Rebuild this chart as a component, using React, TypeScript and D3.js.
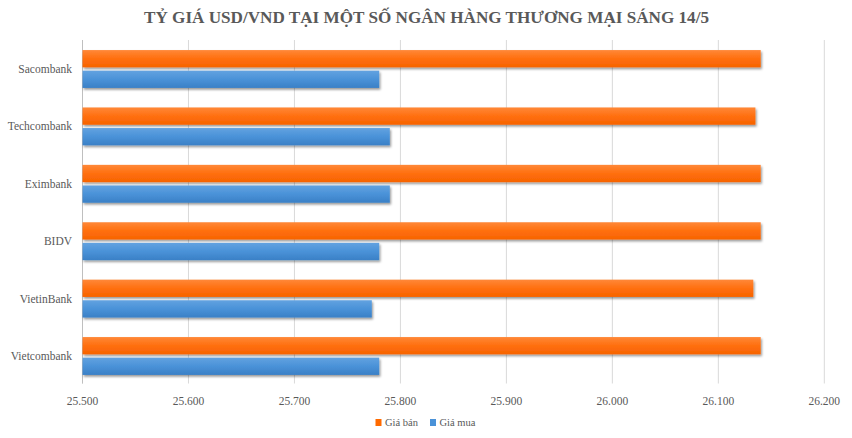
import React from "react";
import * as d3 from "d3";

const categories = ["Sacombank", "Techcombank", "Eximbank", "BIDV", "VietinBank", "Vietcombank"];
const seriesNames = ["Giá bán", "Giá mua"];
const giaBan = [26140, 26135, 26140, 26140, 26133, 26140];
const giaMua = [25780, 25790, 25790, 25780, 25773, 25780];
const tickValues = [25500, 25600, 25700, 25800, 25900, 26000, 26100, 26200];
const title = "TỶ GIÁ USD/VND TẠI MỘT SỐ NGÂN HÀNG THƯƠNG MẠI SÁNG 14/5";

const W = 852;
const H = 438;
const serif = "'Liberation Serif', 'DejaVu Serif', serif";

export default function App() {
  const x = d3.scaleLinear().domain([25500, 26200]).range([82.5, 824.3]);
  const y = d3.scaleBand<string>().domain(categories).range([40.3, 384.7]).paddingInner(0.34).paddingOuter(0.17);
  const sub = d3.scaleBand<string>().domain(seriesNames).range([0, y.bandwidth()]).paddingInner(0.16);
  const loc = d3.formatLocale({ decimal: ",", thousands: ".", grouping: [3], currency: ["", ""] });
  const fmt = loc.format(",.0f");
  const series = [
    { name: seriesNames[0], values: giaBan, grad: "gOrange" },
    { name: seriesNames[1], values: giaMua, grad: "gBlue" },
  ];
  const plotTop = 40;
  const plotBottom = 383.5;
  return (
    <svg width={W} height={H} style={{ position: "absolute", left: 0, top: 0, background: "#fff" }}>
      <defs>
        <linearGradient id="gOrange" x1="0" y1="0" x2="0" y2="1">
          <stop offset="0" stopColor="#ff8838" />
          <stop offset="0.5" stopColor="#ff6f0f" />
          <stop offset="1" stopColor="#f76300" />
        </linearGradient>
        <linearGradient id="gBlue" x1="0" y1="0" x2="0" y2="1">
          <stop offset="0" stopColor="#62a2e0" />
          <stop offset="0.5" stopColor="#4a92d8" />
          <stop offset="1" stopColor="#3a80c6" />
        </linearGradient>
        <filter id="shadow" x="-5%" y="-30%" width="110%" height="170%">
          <feDropShadow dx="1.2" dy="1.8" stdDeviation="0.9" floodColor="#000" floodOpacity="0.4" />
        </filter>
      </defs>
      <rect x={0} y={0} width={W} height={H} fill="#fff" />
      <text
        x={426.5}
        y={23}
        textAnchor="middle"
        fontFamily={serif}
        fontWeight="bold"
        fontSize={17.5}
        fill="#595959"
        textLength={565}
        lengthAdjust="spacingAndGlyphs"
      >
        {title}
      </text>
      {tickValues.map((t) => (
        <line key={"g" + t} x1={x(t)} x2={x(t)} y1={plotTop} y2={plotBottom} stroke="#d9d9d9" strokeWidth={1} />
      ))}
      <line x1={x(25500)} x2={x(25500)} y1={plotTop} y2={plotBottom} stroke="#bfbfbf" strokeWidth={1} />
      {tickValues.map((t) => (
        <text key={"t" + t} x={x(t)} y={405} textAnchor="middle" fontFamily={serif} fontSize={11.5} fill="#595959">
          {fmt(t)}
        </text>
      ))}
      {categories.map((c) => (
        <text
          key={"c" + c}
          x={72}
          y={(y(c) ?? 0) + y.bandwidth() / 2 + 4}
          textAnchor="end"
          fontFamily={serif}
          fontSize={11.5}
          fill="#595959"
        >
          {c}
        </text>
      ))}
      {series.map((s) =>
        categories.map((c, i) => (
          <rect
            key={s.name + c}
            x={x(25500)}
            y={(y(c) ?? 0) + (sub(s.name) ?? 0)}
            width={x(s.values[i]) - x(25500)}
            height={sub.bandwidth()}
            fill={`url(#${s.grad})`}
            filter="url(#shadow)"
          />
        ))
      )}
      <g>
        <rect x={375.5} y={419} width={6} height={7} fill="#ff6a00" />
        <text x={385} y={426} fontFamily={serif} fontSize={10.5} fill="#595959">
          {seriesNames[0]}
        </text>
        <rect x={430} y={419} width={6} height={7} fill="#4a92d8" />
        <text x={439.5} y={426} fontFamily={serif} fontSize={10.5} fill="#595959">
          {seriesNames[1]}
        </text>
      </g>
    </svg>
  );
}
